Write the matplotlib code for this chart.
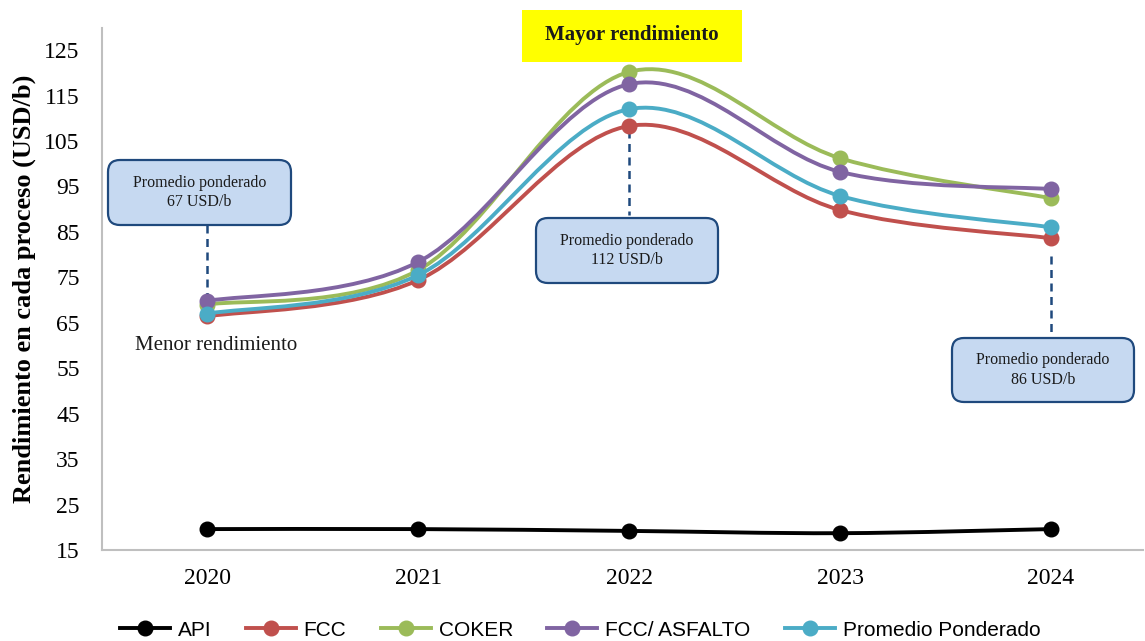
import matplotlib
matplotlib.use("Agg")
import matplotlib.pyplot as plt
from matplotlib.path import Path
from matplotlib.patches import PathPatch, FancyBboxPatch, Rectangle
from matplotlib.lines import Line2D
from matplotlib.transforms import Affine2D, blended_transform_factory

# ---- data -------------------------------------------------------------
years = ["2020", "2021", "2022", "2023", "2024"]
api = [19.6, 19.6, 19.2, 18.7, 19.6]
fcc = [66.4, 74.4, 108.3, 89.8, 83.6]
coker = [69.0, 76.6, 120.2, 101.2, 92.4]
fcc_asfalto = [69.8, 78.4, 117.5, 98.2, 94.4]
promedio = [67, 75.5, 112, 92.9, 86]

series_names = ["API", "FCC", "COKER", "FCC/ ASFALTO", "Promedio Ponderado"]
series_values = [api, fcc, coker, fcc_asfalto, promedio]
colors = ["#000000", "#C0504D", "#9BBB59", "#8064A2", "#4BACC6"]
yticks = list(range(15, 126, 10))

# ---- figure -------------------------------------------------------------
W, H = 1145, 641
SERIF = ["Liberation Serif", "DejaVu Serif"]
SANS = ["Liberation Sans", "DejaVu Sans"]

fig = plt.figure(figsize=(W / 100, H / 100), dpi=100)
ax = fig.add_axes([102 / W, (H - 550) / H, (1143 - 102) / W, 522 / H])

# pixel coordinates measured from the top-left corner of the figure
px = Affine2D().scale(1 / W, -1 / H).translate(0, 1) + fig.transFigure


def smooth_path(xs, ys):
    """Cubic Bezier path through the points (spreadsheet-style smoothing)."""
    n = len(xs)
    pts = list(zip(xs, ys))
    verts = [pts[0]]
    codes = [Path.MOVETO]
    for i in range(n - 1):
        p0 = pts[i - 1] if i > 0 else pts[i]
        p1 = pts[i]
        p2 = pts[i + 1]
        p3 = pts[i + 2] if i + 2 < n else pts[i + 1]
        c1 = (p1[0] + (p2[0] - p0[0]) / 6, p1[1] + (p2[1] - p0[1]) / 6)
        c2 = (p2[0] - (p3[0] - p1[0]) / 6, p2[1] - (p3[1] - p1[1]) / 6)
        verts += [c1, c2, p2]
        codes += [Path.CURVE4] * 3
    return Path(verts, codes)


x = list(range(len(years)))
handles = []
for k, (name, vals, col) in enumerate(zip(series_names, series_values, colors)):
    z = 3 + k
    patch = PathPatch(smooth_path(x, vals), facecolor="none", edgecolor=col,
                      lw=2.8, capstyle="round", joinstyle="round", zorder=z)
    ax.add_patch(patch)
    ax.plot(x, vals, linestyle="none", marker="o", markersize=10.5,
            color=col, zorder=z + 0.5)
    handles.append(Line2D([], [], color=col, lw=2.8, marker="o",
                          markersize=10.5, label=name))

ax.set_xlim(-0.5, (1143 - 207) / 211)
ax.set_ylim(15, 15 + 522 / 4.545)
ax.set_xticks(x)
ax.set_xticklabels(years, fontfamily=SERIF, fontsize=17)
ax.set_yticks(yticks)
ax.set_yticklabels([str(v) for v in yticks], fontfamily=SERIF, fontsize=17)
ax.tick_params(axis="both", length=0)
ax.tick_params(axis="y", pad=16)
ax.tick_params(axis="x", pad=13)

for side in ("top", "right"):
    ax.spines[side].set_visible(False)
for side in ("left", "bottom"):
    ax.spines[side].set_color("#BFBFBF")
    ax.spines[side].set_linewidth(1.5)

ax.set_ylabel("Rendimiento en cada proceso (USD/b)", fontfamily=SERIF,
              fontsize=19, fontweight="bold", labelpad=6)

fig.legend(handles=handles, loc="center", bbox_to_anchor=(580 / W, 1 - 630 / H),
           ncol=5, frameon=False, handlelength=2.4, handletextpad=0.38,
           columnspacing=1.65, prop={"family": SANS, "size": 15})

# ---- callouts -----------------------------------------------------------
box_fc = "#C6D9F1"
box_ec = "#1F497D"
callouts = [
    # (series index, box left, box top, box right, box bottom, dash from, dash to)
    (0, 108, 160, 291, 225, 225, 298),
    (2, 536, 218, 718, 283, 130, 215),
    (4, 952, 338, 1134, 402, 256, 335),
]
blend = blended_transform_factory(ax.transData, px)
for i, x0, y0, x1, y1, d0, d1 in callouts:
    box = FancyBboxPatch((x0, y0), x1 - x0, y1 - y0,
                         boxstyle="round,pad=0,rounding_size=12",
                         facecolor=box_fc, edgecolor=box_ec, lw=1.6,
                         transform=px, zorder=10)
    fig.add_artist(box)
    fig.text((x0 + x1) / 2, (y0 + y1) / 2,
             f"Promedio ponderado\n{promedio[i]:.0f} USD/b",
             transform=px, ha="center", va="center", fontfamily=SERIF,
             fontsize=11.5, linespacing=1.25, color="#1a1a1a", zorder=11)
    ax.plot([i, i], [d0, d1], transform=blend, color=box_ec, lw=1.8,
            linestyle=(0, (3.2, 2.2)), zorder=2, clip_on=False)

ax.text(135, 346, "Menor rendimiento", transform=px, ha="left", va="center",
        fontfamily=SERIF, fontsize=15, color="#1a1a1a")

fig.add_artist(Rectangle((522, 10), 220, 52, transform=px,
                         facecolor="#FFFF00", edgecolor="none", zorder=10))
fig.text(632, 35, "Mayor rendimiento", transform=px, ha="center", va="center",
         fontfamily=SERIF, fontsize=15, fontweight="bold", color="#1a1a1a",
         zorder=11)

fig.savefig("out.png", dpi=100)
